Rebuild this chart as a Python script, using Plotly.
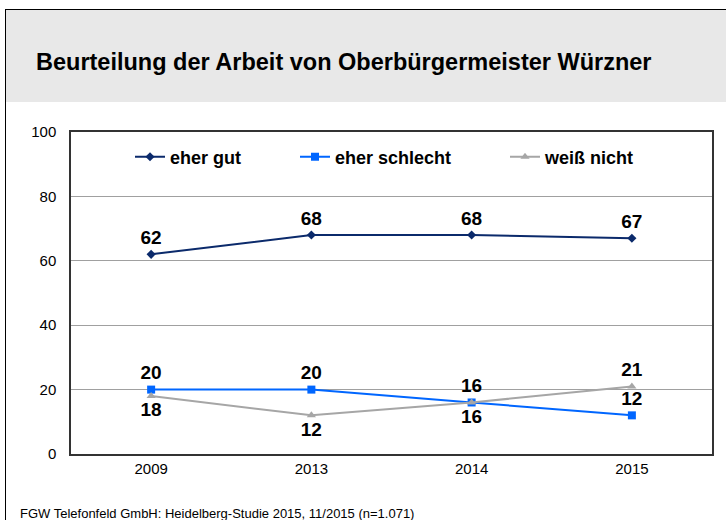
import plotly.graph_objects as go

years = ["2009", "2013", "2014", "2015"]
eher_gut = [62, 68, 68, 67]
eher_schlecht = [20, 20, 16, 12]
weiss_nicht = [18, 12, 16, 21]
schlecht_pos = ["top center", "top center", "top center", "top center"]
weiss_pos = ["bottom center", "bottom center", "bottom center", "top center"]

W, H = 726, 520
L, R, T, B = 71, 14, 132, 66
PW, PH = W - L - R, H - T - B


def px(x):
    return (x - L) / PW


def py(y):
    return (H - B - y) / PH


lab_font = dict(family="Liberation Sans, Arial", size=19, color="black", weight="bold")
leg_font = dict(family="Liberation Sans, Arial", size=18, color="black", weight="bold")

fig = go.Figure()
fig.add_trace(go.Scatter(
    x=years, y=eher_gut, name="eher gut", mode="lines+markers+text",
    line=dict(color="#0b2a6b", width=2),
    marker=dict(symbol="diamond", size=7, color="#0b2a6b"),
    text=[str(v) for v in eher_gut], textposition="top center",
    textfont=lab_font, cliponaxis=False, legend="legend"))
fig.add_trace(go.Scatter(
    x=years, y=eher_schlecht, name="eher schlecht", mode="lines+markers+text",
    line=dict(color="#0066ff", width=2),
    marker=dict(symbol="square", size=8, color="#0066ff"),
    text=[str(v) for v in eher_schlecht], textposition=schlecht_pos,
    textfont=lab_font, cliponaxis=False, legend="legend2"))
fig.add_trace(go.Scatter(
    x=years, y=weiss_nicht, name="weiß nicht", mode="lines+markers+text",
    line=dict(color="#a6a6a6", width=2),
    marker=dict(symbol="triangle-up", size=8, color="#a6a6a6"),
    text=[str(v) for v in weiss_nicht], textposition=weiss_pos,
    textfont=lab_font, cliponaxis=False, legend="legend3"))

shapes = [
    dict(type="rect", xref="paper", yref="paper",
         x0=px(6), x1=px(W), y0=py(102), y1=py(10),
         fillcolor="#e8e8e8", line=dict(width=0), layer="below"),
    dict(type="line", xref="paper", yref="paper",
         x0=px(5), x1=px(W), y0=py(9.5), y1=py(9.5),
         line=dict(color="black", width=1)),
    dict(type="line", xref="paper", yref="paper",
         x0=px(5.5), x1=px(5.5), y0=py(9.5), y1=py(H),
         line=dict(color="black", width=1)),
]


def leg(x):
    return dict(x=px(x), y=py(157), xanchor="left", yanchor="middle",
                orientation="h", font=leg_font, bgcolor="rgba(0,0,0,0)",
                itemwidth=30)


fig.update_layout(
    width=W, height=H,
    margin=dict(l=L, r=R, t=T, b=B),
    paper_bgcolor="white", plot_bgcolor="white",
    font=dict(family="Liberation Sans, Arial", size=15, color="black"),
    showlegend=True,
    legend=leg(130), legend2=leg(295), legend3=leg(505),
    xaxis=dict(type="category", showgrid=False, ticks="", showline=True,
               linecolor="#333333", linewidth=1.5, mirror=True,
               tickfont=dict(size=15), range=[-0.5, 3.5]),
    yaxis=dict(range=[0, 100], tickvals=[0, 20, 40, 60, 80, 100],
               showgrid=True, gridcolor="#a0a0a0", gridwidth=1,
               showline=True, linecolor="#333333", linewidth=1.5, mirror=True,
               zeroline=False, ticks="", tickfont=dict(size=15), ticklabelstandoff=10),
    shapes=shapes,
    annotations=[
        dict(text="<b>Beurteilung der Arbeit von Oberbürgermeister Würzner</b>",
             xref="paper", yref="paper", x=px(34), y=py(62),
             xanchor="left", yanchor="middle", showarrow=False,
             font=dict(size=23.5, color="black")),
        dict(text="FGW Telefonfeld GmbH: Heidelberg-Studie 2015, 11/2015 (n=1.071)",
             xref="paper", yref="paper", x=px(18), y=py(513),
             xanchor="left", yanchor="middle", showarrow=False,
             font=dict(size=13, color="black")),
    ],
)

fig.write_html("out.html", config={"displayModeBar": False},
               post_script="document.body.style.margin='0px';")
